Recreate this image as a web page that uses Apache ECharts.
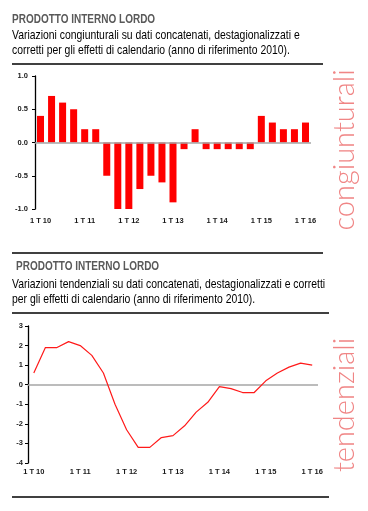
<!DOCTYPE html>
<html>
<head>
<meta charset="utf-8">
<script src="https://cdn.jsdelivr.net/npm/echarts@6/dist/echarts.min.js"></script>
<style>
html,body{margin:0;padding:0;background:#fff;}
#c{width:368px;height:511px;}
</style>
</head>
<body>
<div id="c"></div>
<script>
// Categories (quarters 2010Q1 - 2016Q1)
const quarters = [
  "1 T 10","2 T 10","3 T 10","4 T 10",
  "1 T 11","2 T 11","3 T 11","4 T 11",
  "1 T 12","2 T 12","3 T 12","4 T 12",
  "1 T 13","2 T 13","3 T 13","4 T 13",
  "1 T 14","2 T 14","3 T 14","4 T 14",
  "1 T 15","2 T 15","3 T 15","4 T 15",
  "1 T 16"
];
// Variazioni congiunturali (%)
const congiunturali = [
  0.4, 0.7, 0.6, 0.5,
  0.2, 0.2, -0.5, -1.0,
  -1.0, -0.7, -0.5, -0.6,
  -0.9, -0.1, 0.2, -0.1,
  -0.1, -0.1, -0.1, -0.1,
  0.4, 0.3, 0.2, 0.2,
  0.3
];
// Variazioni tendenziali (%)
const tendenziali = [
  0.6, 1.9, 1.9, 2.2,
  2.0, 1.5, 0.6, -1.0,
  -2.3, -3.2, -3.2, -2.7,
  -2.6, -2.1, -1.4, -0.9,
  -0.1, -0.2, -0.4, -0.4,
  0.2, 0.6, 0.9, 1.1,
  1.0
];
const title1 = "PRODOTTO INTERNO LORDO";
const sub1 = ["Variazioni congiunturali su dati concatenati, destagionalizzati e",
              "corretti per gli effetti di calendario (anno di riferimento 2010)."];
const title2 = "PRODOTTO INTERNO LORDO";
const sub2 = ["Variazioni tendenziali su dati concatenati, destagionalizzati e corretti",
              "per gli effetti di calendario (anno di riferimento 2010)."];
const side1 = "congiunturali";
const side2 = "tendenziali";

const SANS = '"Liberation Sans",Arial,sans-serif';
const axisFont = {fontFamily: SANS, fontWeight: 'bold', fontSize: 7.5, color: '#1a1a1a'};

function txt(x, y, s, style) {
  return {type: 'text', x: x, y: y, scaleX: 0.8, silent: true,
    style: Object.assign({text: s, textVerticalAlign: 'middle', fontFamily: SANS}, style)};
}
function rule(x1, x2, y) {
  return {type: 'line', silent: true, shape: {x1: x1, y1: y, x2: x2, y2: y},
    style: {stroke: '#000', lineWidth: 1.3}};
}
function side(x, y, s) {
  return {type: 'text', x: x, y: y, rotation: Math.PI / 2, silent: true,
    style: {text: s, textAlign: 'center', textVerticalAlign: 'middle',
      fontFamily: 'Lato,"Open Sans",sans-serif', fontWeight: 300, fontSize: 29, fill: '#f08585'}};
}

const chart = echarts.init(document.getElementById('c'), null, {renderer: 'canvas'});
chart.setOption({
  animation: false,
  backgroundColor: '#fff',
  grid: [
    {left: 35, right: 57, top: 76, bottom: 302},
    {left: 28, right: 50, top: 326, bottom: 48}
  ],
  xAxis: [
    {gridIndex: 0, type: 'category', data: quarters, position: 'bottom',
      axisLine: {show: false, onZero: false}, axisTick: {show: false},
      axisLabel: Object.assign({interval: 3, margin: 8}, axisFont)},
    {gridIndex: 1, type: 'category', data: quarters, position: 'bottom', boundaryGap: true,
      axisLine: {show: false, onZero: false}, axisTick: {show: false},
      axisLabel: Object.assign({interval: 3, margin: 5}, axisFont)}
  ],
  yAxis: [
    {gridIndex: 0, type: 'value', min: -1, max: 1, interval: 0.5,
      axisLine: {show: true, lineStyle: {color: '#000', width: 1.3}},
      axisTick: {show: true, length: 3, lineStyle: {color: '#000'}},
      splitLine: {show: false},
      axisLabel: Object.assign({margin: 7, formatter: v => v.toFixed(1)}, axisFont)},
    {gridIndex: 1, type: 'value', min: -4, max: 3, interval: 1,
      axisLine: {show: true, lineStyle: {color: '#000', width: 1.3}},
      axisTick: {show: true, length: 3, lineStyle: {color: '#000'}},
      splitLine: {show: false},
      axisLabel: Object.assign({margin: 5}, axisFont)}
  ],
  series: [
    {type: 'bar', xAxisIndex: 0, yAxisIndex: 0, data: congiunturali, barWidth: 7,
      itemStyle: {color: '#ff0000'}, silent: true,
      markLine: {silent: true, symbol: 'none', label: {show: false},
        lineStyle: {color: '#a6a6a6', type: 'solid', width: 1.5},
        data: [{yAxis: 0}]}},
    {type: 'line', xAxisIndex: 1, yAxisIndex: 1, data: tendenziali, symbol: 'none',
      lineStyle: {color: '#ff1a1a', width: 1.2}, silent: true, z: 3,
      markLine: {silent: true, symbol: 'none', label: {show: false},
        lineStyle: {color: '#a6a6a6', type: 'solid', width: 1.5},
        data: [{yAxis: 0}], z: 1}}
  ],
  graphic: [
    txt(12, 20, title1, {fontWeight: 'bold', fontSize: 12.5, fill: '#595959'}),
    txt(12, 35, sub1[0], {fontSize: 13, fill: '#000'}),
    txt(12, 50, sub1[1], {fontSize: 13, fill: '#000'}),
    rule(12, 323, 64),
    rule(12, 323, 253),
    txt(16, 267, title2, {fontWeight: 'bold', fontSize: 12.5, fill: '#595959'}),
    txt(12, 284, sub2[0], {fontSize: 13, fill: '#000'}),
    txt(12, 299, sub2[1], {fontSize: 13, fill: '#000'}),
    rule(12, 329, 313),
    rule(12, 329, 497),
    side(345, 150, side1),
    side(345, 405, side2)
  ]
});
</script>
</body>
</html>
